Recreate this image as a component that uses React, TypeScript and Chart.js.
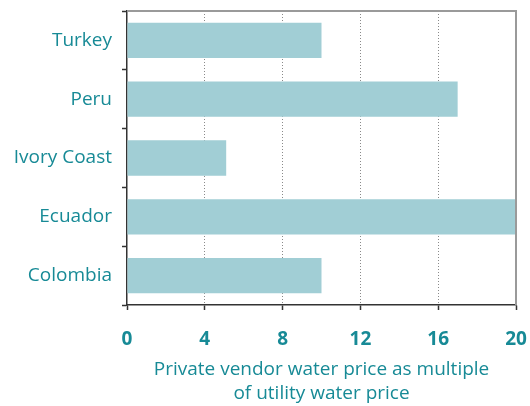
import React, { useEffect, useRef } from "react";
import { Chart, registerables } from "chart.js";

Chart.register(...registerables);

const categories = ["Turkey", "Peru", "Ivory Coast", "Ecuador", "Colombia"];
const values = [10, 17, 5.1, 20, 10];
const xTicks = [0, 4, 8, 12, 16, 20];
const xTitle = ["Private vendor water price as multiple", "of utility water price"];

const TEAL = "#178a96";
const BAR = "#a1ced5";
const FONT = "'Open Sans', sans-serif";

const frame = {
  id: "frame",
  afterDatasetsDraw(chart: any) {
    const { ctx, chartArea } = chart;
    ctx.save();
    ctx.strokeStyle = "#9a9a9a";
    ctx.lineWidth = 2;
    ctx.beginPath();
    ctx.moveTo(chartArea.left, chartArea.top);
    ctx.lineTo(chartArea.right, chartArea.top);
    ctx.lineTo(chartArea.right, chartArea.bottom);
    ctx.stroke();
    ctx.restore();
  },
};

export default function App() {
  const ref = useRef<HTMLCanvasElement>(null);
  useEffect(() => {
    document.body.style.margin = "0";
    const chart = new Chart(ref.current!, {
      type: "bar",
      data: {
        labels: categories,
        datasets: [
          {
            data: values,
            backgroundColor: BAR,
            categoryPercentage: 0.6,
            barPercentage: 1,
          },
        ],
      },
      options: {
        indexAxis: "y",
        animation: false,
        responsive: false,
        layout: { padding: { top: 11, right: 14, left: 0, bottom: 0 } },
        plugins: { legend: { display: false }, tooltip: { enabled: false } },
        scales: {
          x: {
            min: 0,
            max: 20,
            afterBuildTicks: (s: any) => {
              s.ticks = xTicks.map((v) => ({ value: v }));
            },
            afterFit: (s: any) => {
              s.height = 101;
              s.paddingLeft = 0;
              s.paddingRight = 0;
            },
            border: { display: true, color: "#333", width: 1.5, dash: [1, 2] },
            grid: {
              color: (c: any) => (c.tick && (c.tick.value === 0 || c.tick.value === 20) ? "rgba(0,0,0,0)" : "#8a8a8a"),
              lineWidth: 1,
              tickColor: "#333",
              tickLength: 5,
              tickBorderDash: [],
              tickWidth: 1.5,
            },
            ticks: {
              color: TEAL,
              font: { family: FONT, size: 19, weight: "bold", lineHeight: 0.88 },
              padding: 21,
            },
            title: {
              display: true,
              text: xTitle,
              color: TEAL,
              font: { family: FONT, size: 19, lineHeight: 1.26 },
              padding: { top: 0, bottom: 0 },
            },
          },
          y: {
            border: { display: true, color: "#333", width: 1.5 },
            grid: {
              drawOnChartArea: false,
              tickColor: "#333",
              tickLength: 5,
              tickWidth: 1.5,
              offset: true,
            },
            ticks: {
              color: TEAL,
              font: { family: FONT, size: 19 },
              padding: 10,
            },
            afterFit: (s: any) => {
              s.width = 127;
              s.paddingTop = 0;
              s.paddingBottom = 0;
            },
          },
        },
      },
      plugins: [frame],
    } as any);
    return () => chart.destroy();
  }, []);
  return (
    <div style={{ position: "absolute", left: 0, top: 0, width: 530, height: 406 }}>
      <canvas ref={ref} width={530} height={406} />
    </div>
  );
}
